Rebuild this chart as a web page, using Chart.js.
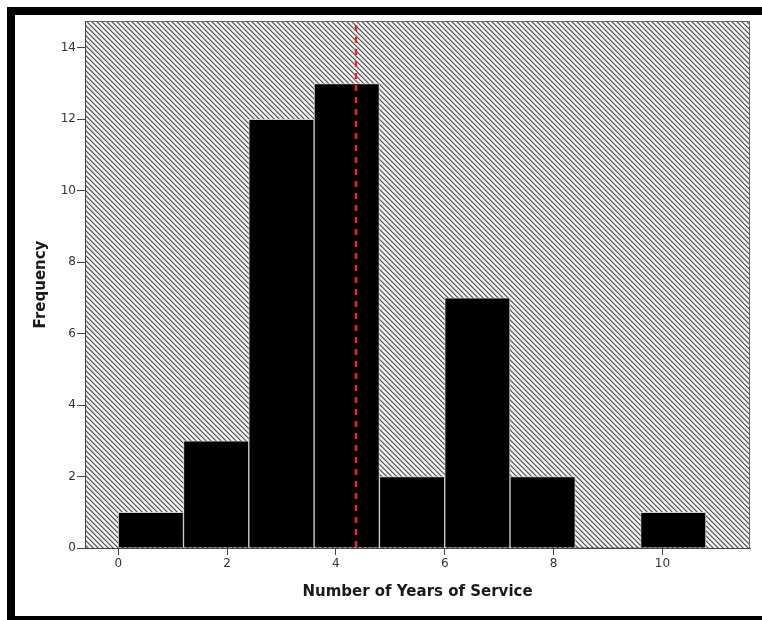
<!DOCTYPE html>
<html>
<head>
<meta charset="utf-8">
<script src="https://cdn.jsdelivr.net/npm/chart.js@4"></script>
<style>
  html, body { margin: 0; padding: 0; background: #fff; }
  #wrap { position: relative; width: 762px; height: 620px; }
  canvas { display: block; }
</style>
</head>
<body>
<div id="wrap"><canvas id="chart" width="762" height="620"></canvas></div>
<script>
// Histogram bins (lower edges, years) and their counts
const binStarts = [0, 1.2, 2.4, 3.6, 4.8, 6.0, 7.2, 8.4, 9.6];
const binWidth = 1.2;
const frequencies = [1, 3, 12, 13, 2, 7, 2, 0, 1];
// Mean number of years, shown as the dashed reference line
const meanYears = 4.37;
// Axis tick values
const xTickValues = [0, 2, 4, 6, 8, 10];
const yTickValues = [0, 2, 4, 6, 8, 10, 12, 14];
const xTitle = 'Number of Years of Service';
const yTitle = 'Frequency';

const barPoints = binStarts.map((s, i) => ({ x: s + binWidth / 2, y: frequencies[i] }));

const FONT = '"DejaVu Sans", Verdana, sans-serif';

// Diagonal hatch tile for the plot background
function makeHatch(ctx) {
  const n = 5;
  const tile = document.createElement('canvas');
  tile.width = n; tile.height = n;
  const tctx = tile.getContext('2d');
  const img = tctx.createImageData(n, n);
  const shades = [85, 172, 240, 245, 212];
  for (let y = 0; y < n; y++) {
    for (let x = 0; x < n; x++) {
      const d = (((x - y) % n) + n) % n;
      const v = shades[d];
      const k = (y * n + x) * 4;
      img.data[k] = v; img.data[k + 1] = v; img.data[k + 2] = v; img.data[k + 3] = 255;
    }
  }
  tctx.putImageData(img, 0, 0);
  return ctx.createPattern(tile, 'repeat');
}

const framePlugin = {
  id: 'framePlugin',
  beforeDraw(chart) {
    const { ctx, chartArea: a, width, height } = chart;
    ctx.save();
    ctx.fillStyle = '#fff';
    ctx.fillRect(0, 0, width, height);
    // outer black frame
    ctx.fillStyle = '#000';
    ctx.fillRect(7, 7, width - 7, 8);
    ctx.fillRect(7, 7, 8, height - 7);
    ctx.fillRect(7, 616, width - 7, 4);
    // hatched plot background
    ctx.fillStyle = makeHatch(ctx);
    ctx.fillRect(a.left, a.top, a.right - a.left, a.bottom - a.top);
    ctx.strokeStyle = '#666';
    ctx.lineWidth = 1;
    ctx.strokeRect(a.left + 0.5, a.top + 0.5, a.right - a.left - 1, a.bottom - a.top);
    ctx.restore();
  },
  afterDatasetsDraw(chart) {
    const { ctx, chartArea: a, scales } = chart;
    const x = Math.round(scales.x.getPixelForValue(meanYears));
    ctx.save();
    ctx.strokeStyle = '#e8262e';
    ctx.lineWidth = 2.5;
    ctx.setLineDash([6, 6]);
    ctx.beginPath();
    ctx.moveTo(x, a.top + 4);
    ctx.lineTo(x, a.bottom);
    ctx.stroke();
    ctx.restore();
  }
};

new Chart(document.getElementById('chart'), {
  type: 'bar',
  data: {
    datasets: [{
      data: barPoints,
      backgroundColor: '#000',
      borderColor: '#cfcfcf',
      borderWidth: c => (c.raw && c.raw.y > 0 ? 1 : 0),
      borderSkipped: 'start',
      barPercentage: 1,
      categoryPercentage: 1,
      grouped: false
    }]
  },
  options: {
    responsive: false,
    animation: false,
    devicePixelRatio: 1,
    layout: { padding: { left: 0, top: 21, right: 12, bottom: 0 } },
    plugins: { legend: { display: false }, tooltip: { enabled: false } },
    scales: {
      x: {
        type: 'linear',
        min: -0.61,
        max: 11.61,
        offset: false,
        afterBuildTicks: s => { s.ticks = xTickValues.map(v => ({ value: v })); },
        afterFit: s => { s.height = 72; },
        ticks: { color: '#333', font: { family: FONT, size: 12 }, padding: 2, maxRotation: 0 },
        grid: { offset: false, drawOnChartArea: false, drawTicks: true, tickLength: 7, color: '#444', lineWidth: 1 },
        border: { display: true, color: '#444', width: 1 },
        title: {
          display: true, text: xTitle, color: '#1a1a1a',
          font: { family: FONT, size: 15, weight: 'bold' },
          padding: { top: 0, bottom: 19 }
        }
      },
      y: {
        type: 'linear',
        min: 0,
        max: 14.75,
        afterBuildTicks: s => { s.ticks = yTickValues.map(v => ({ value: v })); },
        afterFit: s => { s.width = 85; },
        ticks: { color: '#333', font: { family: FONT, size: 12 }, padding: 1 },
        grid: { drawOnChartArea: false, drawTicks: true, tickLength: 8, color: '#444', lineWidth: 1 },
        border: { display: true, color: '#444', width: 1 },
        title: {
          display: true, text: yTitle, color: '#1a1a1a',
          font: { family: FONT, size: 15, weight: 'bold' },
          padding: { top: 32, bottom: 0 }
        }
      }
    }
  },
  plugins: [framePlugin]
});
</script>
</body>
</html>
